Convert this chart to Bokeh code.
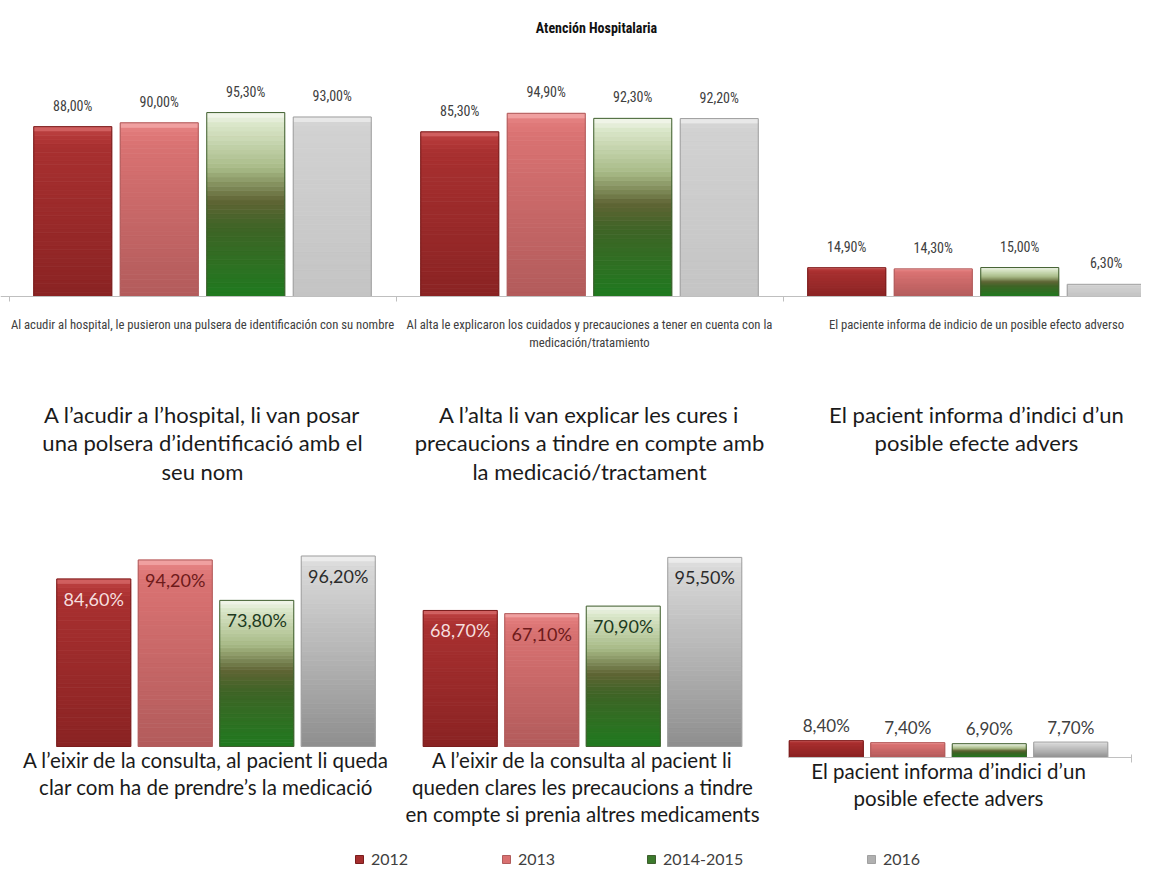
from bokeh.plotting import figure
from bokeh.models import (ColumnDataSource, Range1d, FixedTicker, Legend, LegendItem,
                          LinearAxis, Label)
from bokeh.layouts import column, row
from bokeh.core.properties import value
from bokeh.transform import dodge
from bokeh.embed import file_html
from bokeh.resources import INLINE

# ---------------- data ----------------
series = ["2012", "2013", "2014-2015", "2016"]

top_title = "Atención Hospitalaria"
top_categories = [
    "Al acudir al hospital, le pusieron una pulsera de identificación con su nombre",
    "Al alta le explicaron los cuidados y precauciones a tener en cuenta con la\nmedicación/tratamiento",
    "El paciente informa de indicio de un posible efecto adverso",
]
top_captions = [
    "A l’acudir a l’hospital, li van posar\nuna polsera d’identificació amb el\nseu nom",
    "A l’alta li van explicar les cures i\nprecaucions a tindre en compte amb\nla medicació/tractament",
    "El pacient informa d’indici d’un\nposible efecte advers",
]
top_2012 = [88.0, 85.3, 14.9]
top_2013 = [90.0, 94.9, 14.3]
top_2014_2015 = [95.3, 92.3, 15.0]
top_2016 = [93.0, 92.2, 6.3]

bottom_captions = [
    "A l’eixir de la consulta, al pacient li queda\nclar com ha de prendre’s la medicació",
    "A l’eixir de la consulta al pacient li\nqueden clares les precaucions a tindre\nen compte si prenia altres medicaments",
    "El pacient informa d’indici d’un\nposible efecte advers",
]
bottom_2012 = [84.6, 68.7, 8.4]
bottom_2013 = [94.2, 67.1, 7.4]
bottom_2014_2015 = [73.8, 70.9, 6.9]
bottom_2016 = [96.2, 95.5, 7.7]

# ---------------- styles ----------------
COND = "Roboto Condensed, DejaVu Sans Condensed, sans-serif"
SANS = "Lato"
W = 1141

RED = [(0, "#dc7070"), (0.04, "#b63a3a"), (0.12, "#a83030"), (1, "#8a2323")]
PINK = [(0, "#f6b0b0"), (0.04, "#e27c7c"), (0.12, "#d97272"), (1, "#b25b5b")]
GREEN = [(0, "#f4f8ee"), (0.06, "#dbe7cb"), (0.3, "#a8bb88"), (0.48, "#5f6434"),
         (0.62, "#3f6426"), (1, "#1f7a1f")]
TOP_STOPS = [RED, PINK, GREEN, [(0, "#f2f2f2"), (0.04, "#d2d2d2"), (1, "#c4c4c4")]]
BOT_STOPS = [RED, PINK, GREEN, [(0, "#f4f4f4"), (0.04, "#dadada"), (1, "#8e8e8e")]]
EDGES = ["#7a1d1d", "#b05c5c", "#3f5e2e", "#a0a0a0"]
LEGEND_COLORS = ["#a52e2e", "#d97070", "#3c7a2c", "#b0b0b0"]
INBAR_COLORS = ["#f6dede", "#6e1a1a", "#203a20", "#2b2b2b"]


def to_rgb(h):
    return tuple(int(h[i:i + 2], 16) for i in (1, 3, 5))


def grad_color(stops, t):
    for (p0, c0), (p1, c1) in zip(stops[:-1], stops[1:]):
        if t <= p1:
            f = (t - p0) / (p1 - p0) if p1 > p0 else 0.0
            a, b = to_rgb(c0), to_rgb(c1)
            return "#%02x%02x%02x" % tuple(round(a[k] + (b[k] - a[k]) * f) for k in range(3))
    return stops[-1][1]


def segments(xs, vals, stops, nseg=40):
    x, b, t, c = [], [], [], []
    for xv, v in zip(xs, vals):
        for k in range(nseg):
            x.append(xv)
            b.append(v * k / nseg)
            t.append(v * (k + 1) / nseg)
            c.append(grad_color(stops, 1 - (k + 0.5) / nseg))
    return dict(x=x, bottom=b, top=t, color=c)


def fmt(v):
    return ("%.2f" % v).replace(".", ",") + "%"


def no_grid(f):
    f.xgrid.visible = False
    f.ygrid.visible = False
    f.outline_line_color = None


# ---------------- top chart ----------------
HT = 490
T_BASE = 296          # baseline, px below top of frame
T_PXP = 1.93          # px per percent
T_CAT = 387.0         # px per category
T_PITCH = 86.5 / T_CAT
T_W = 78 / T_CAT
xs0 = -0.5 - 8.5 / T_CAT

p = figure(width=W, height=HT, x_range=Range1d(xs0, xs0 + W / T_CAT),
           y_range=Range1d(-(HT - T_BASE) / T_PXP, T_BASE / T_PXP),
           output_backend="svg", toolbar_location=None, min_border=0,
           y_axis_location=None)
no_grid(p)

cat_idx = list(range(len(top_categories)))
top_vals = [top_2012, top_2013, top_2014_2015, top_2016]
for j, vals in enumerate(top_vals):
    off = (j - (len(series) - 1) / 2) * T_PITCH
    seg = ColumnDataSource(segments(cat_idx, vals, TOP_STOPS[j]))
    p.vbar(x=dodge("x", off, range=p.x_range), bottom="bottom", top="top", width=T_W,
           fill_color="color", line_color="color", line_width=0.8, source=seg)
    src = ColumnDataSource(dict(x=cat_idx, v=vals, lbl=[fmt(v) for v in vals]))
    p.vbar(x=dodge("x", off, range=p.x_range), bottom=0, top="v", width=T_W,
           fill_color=None, line_color=EDGES[j], line_width=1, source=src)
    p.text(x=dodge("x", off, range=p.x_range), y="v", text="lbl", y_offset=-21,
           text_align="center", text_baseline="middle", text_font=value(COND),
           text_font_size="14px", text_color="#404040", source=src)

ax = p.xaxis[0]
ax.fixed_location = 0
ax.ticker = FixedTicker(ticks=cat_idx, minor_ticks=[i - 0.5 for i in range(len(cat_idx) + 1)])
ax.major_label_overrides = {i: lab for i, lab in zip(cat_idx, top_categories)}
ax.major_tick_line_color = None
ax.major_tick_out = 0
ax.major_tick_in = 0
ax.minor_tick_out = 5
ax.minor_tick_in = 0
ax.minor_tick_line_color = "#bfbfbf"
ax.axis_line_color = "#bfbfbf"
ax.major_label_standoff = 15
ax.major_label_text_font = COND
ax.major_label_text_font_size = "12.7px"
ax.major_label_text_color = "#404040"

p.add_layout(Label(x=596, y=HT - 27, x_units="screen", y_units="screen", text=top_title,
                   text_align="center", text_baseline="middle", text_font=COND,
                   text_font_style="bold", text_font_size="14px", text_color="#111111"))

cap_top_px = 400  # top of first caption line, px from frame top
p.text(x=cat_idx, y=[(T_BASE - cap_top_px) / T_PXP] * len(cat_idx), text=top_captions,
       text_align="center", text_baseline="top", text_font=value(SANS),
       text_font_size="22px", text_line_height=1.06, text_color="#1a1a1a")

# ---------------- bottom charts ----------------
HB = 349
B_PITCH = 81.5
B_W = 74 / B_PITCH
bottom_vals = [bottom_2012, bottom_2013, bottom_2014_2015, bottom_2016]
# width, chart centre px in figure, baseline px, px per percent, caption top px, caption dx
fig_specs = [
    (399, 215.5, 256, 1.98, 257, -10),
    (366, 183.0, 256, 1.98, 257, 0),
    (376, 183.0, 267, 2.0, 268, 0),
]
xs_b = list(range(len(series)))
centre = (len(series) - 1) / 2
figs = []
for k, (fw, cpx, base, pxp, capy, capdx) in enumerate(fig_specs):
    f = figure(width=fw, height=HB,
               x_range=Range1d(centre - cpx / B_PITCH, centre + (fw - cpx) / B_PITCH),
               y_range=Range1d(-(HB - base) / pxp, base / pxp),
               output_backend="svg", toolbar_location=None, min_border=0,
               x_axis_location=None, y_axis_location=None)
    no_grid(f)
    vals = [s[k] for s in bottom_vals]
    for j in range(len(series)):
        seg = ColumnDataSource(segments([xs_b[j]], [vals[j]], BOT_STOPS[j]))
        f.vbar(x="x", bottom="bottom", top="top", width=B_W, fill_color="color",
               line_color="color", line_width=0.8, source=seg)
    inside = k < 2
    src = ColumnDataSource(dict(x=xs_b, v=vals, lbl=[fmt(v) for v in vals],
                                edge=EDGES,
                                col=INBAR_COLORS if inside else ["#404040"] * 4))
    f.vbar(x="x", bottom=0, top="v", width=B_W, fill_color=None,
           line_color="edge", line_width=1, source=src)
    f.text(x="x", y="v", text="lbl", y_offset=20 if inside else -15,
           text_align="center", text_baseline="middle", text_font=value(SANS),
           text_font_size="18px" if inside else "17px", text_color="col", source=src)
    f.add_layout(Label(x=centre, y=-(capy - base) / pxp, x_offset=capdx, text=bottom_captions[k],
                       text_align="center", text_baseline="top", text_font=SANS,
                       text_font_size="20.5px", text_line_height=1.13, text_color="#1a1a1a"))
    if not inside:
        axc = LinearAxis(fixed_location=0, bounds=(-0.46, 3.74),
                         ticker=FixedTicker(ticks=[], minor_ticks=[3.74]),
                         axis_line_color="#c0c0c0", minor_tick_out=5, minor_tick_in=3,
                         minor_tick_line_color="#c0c0c0", major_tick_line_color=None)
        f.add_layout(axc, "below")
    figs.append(f)

# ---------------- legend strip ----------------
HL = 30
lf = figure(width=W, height=HL, x_range=Range1d(0, 1), y_range=Range1d(0, 1),
            output_backend="svg", toolbar_location=None, min_border=0,
            x_axis_location=None, y_axis_location=None)
no_grid(lf)
legend_x = [354, 501, 646, 866]
for name, col, edge, lx in zip(series, LEGEND_COLORS, EDGES, legend_x):
    r = lf.vbar(x=[5], top=[1], width=0.1, fill_color=col, line_color=edge)
    lf.add_layout(Legend(items=[LegendItem(label=name, renderers=[r])], location=(lx, 1),
                         orientation="horizontal", padding=0, margin=0, spacing=0,
                         border_line_color=None, background_fill_alpha=0,
                         glyph_width=10, glyph_height=10, label_standoff=7,
                         label_text_font=SANS, label_text_font_size="16px",
                         label_text_color="#404040"))

layout = column(p, row(*figs), lf)
open("out.html", "w").write(file_html(layout, INLINE))
